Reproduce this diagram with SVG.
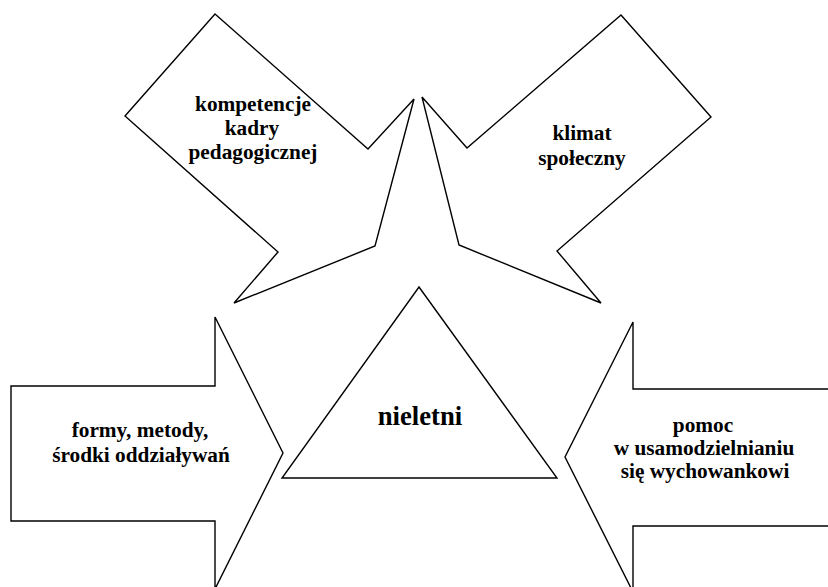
<svg xmlns="http://www.w3.org/2000/svg" width="828" height="587" viewBox="0 0 828 587">
<style>
.shape{fill:#fff;stroke:#000;stroke-width:1.4;stroke-linejoin:miter}
.lbl{font-family:"Liberation Serif","Times New Roman",serif;font-weight:bold;font-size:21.3px;fill:#000;text-anchor:middle}
.big{font-size:26.7px}
</style>
<rect width="828" height="587" fill="#fff"/>
<g id="connectors"></g>
<g id="arrow-kompetencje">
<polygon class="shape" points="215,14 368,149 414,99 375,246 234,303 278,252 125,116"/>
<text class="lbl" x="253" y="111">kompetencje</text>
<text class="lbl" x="252" y="135">kadry</text>
<text class="lbl" x="253" y="159">pedagogicznej</text>
</g>
<g id="arrow-klimat">
<polygon class="shape" points="621,15 711,117 557,251 601,303 459,245 422,97 467,148"/>
<text class="lbl" x="582" y="140">klimat</text>
<text class="lbl" x="582" y="165">społeczny</text>
</g>
<g id="arrow-formy">
<polygon class="shape" points="11,386 215,386 215,317 283,453 215,589 215,521 11,521"/>
<text class="lbl" x="140" y="437">formy, metody,</text>
<text class="lbl" x="141" y="462">środki oddziaływań</text>
</g>
<g id="arrow-pomoc">
<polygon class="shape" points="834,389 633,389 633,322 565,457 633,592 633,526 834,526"/>
<text class="lbl" x="703" y="432">pomoc</text>
<text class="lbl" x="704" y="455">w usamodzielnianiu</text>
<text class="lbl" x="705" y="478">się wychowankowi</text>
</g>
<g id="nieletni">
<polygon class="shape" points="419,287 557,478 282,478"/>
<text class="lbl big" x="420" y="425">nieletni</text>
</g>
</svg>
